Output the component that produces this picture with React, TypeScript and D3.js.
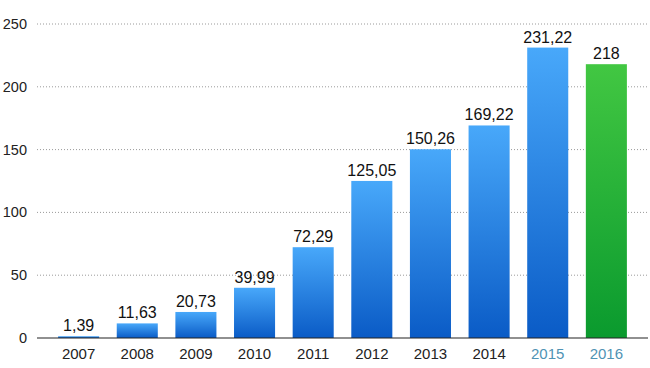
import React from "react";
import * as d3 from "d3";

const WIDTH = 650;
const HEIGHT = 368;
const MARGIN = { top: 24, right: 2, bottom: 30, left: 37 };

const years = ["2007", "2008", "2009", "2010", "2011", "2012", "2013", "2014", "2015", "2016"];
const values = [1.39, 11.63, 20.73, 39.99, 72.29, 125.05, 150.26, 169.22, 231.22, 218];
const valueLabels = ["1,39", "11,63", "20,73", "39,99", "72,29", "125,05", "150,26", "169,22", "231,22", "218"];
const yTicks = [0, 50, 100, 150, 200, 250];
const highlightYears = ["2015", "2016"];
const forecastYears = ["2016"];

const FONT = "'Liberation Sans', Helvetica, Arial, sans-serif";

const App = () => {
  const boundsWidth = WIDTH - MARGIN.left - MARGIN.right;
  const boundsHeight = HEIGHT - MARGIN.top - MARGIN.bottom;

  const xScale = d3
    .scaleBand()
    .domain(years)
    .range([0, boundsWidth])
    .paddingInner(0.3)
    .paddingOuter(0.36);

  const yScale = d3.scaleLinear().domain([0, 250]).range([boundsHeight, 0]);

  return (
    <svg
      width={WIDTH}
      height={HEIGHT}
      style={{ position: "absolute", left: 0, top: 0, background: "#fff" }}
    >
      <defs>
        <linearGradient id="blueGrad" x1="0" y1="0" x2="0" y2="1">
          <stop offset="0%" stopColor="#48a8fa" />
          <stop offset="100%" stopColor="#0a5bc6" />
        </linearGradient>
        <linearGradient id="greenGrad" x1="0" y1="0" x2="0" y2="1">
          <stop offset="0%" stopColor="#42c742" />
          <stop offset="100%" stopColor="#0a9a2e" />
        </linearGradient>
      </defs>
      <g transform={`translate(${MARGIN.left},${MARGIN.top})`}>
        {yTicks.map((t) => (
          <g key={t}>
            {t > 0 && (
              <line
                x1={0}
                x2={boundsWidth}
                y1={yScale(t)}
                y2={yScale(t)}
                stroke="#9a9a9a"
                strokeWidth={1}
                strokeDasharray="1,2"
              />
            )}
            <text
              x={-10}
              y={yScale(t)}
              textAnchor="end"
              dominantBaseline="central"
              fontSize={14.5}
              fontFamily={FONT}
              fill="#222"
            >
              {t}
            </text>
          </g>
        ))}

        {years.map((y, i) => {
          const x = xScale(y) as number;
          const bw = xScale.bandwidth();
          const top = yScale(values[i]);
          return (
            <g key={y}>
              <rect
                x={x}
                y={top}
                width={bw}
                height={boundsHeight - top}
                fill={forecastYears.includes(y) ? "url(#greenGrad)" : "url(#blueGrad)"}
              />
              <text
                x={x + bw / 2}
                y={top - 5}
                textAnchor="middle"
                fontSize={16}
                fontFamily={FONT}
                fill="#111"
              >
                {valueLabels[i]}
              </text>
              <text
                x={x + bw / 2}
                y={boundsHeight + 21}
                textAnchor="middle"
                fontSize={15}
                fontFamily={FONT}
                fill={highlightYears.includes(y) ? "#4f93b4" : "#222"}
              >
                {y}
              </text>
            </g>
          );
        })}

        <line
          x1={0}
          x2={boundsWidth}
          y1={boundsHeight}
          y2={boundsHeight}
          stroke="#222"
          strokeWidth={1.2}
        />
      </g>
    </svg>
  );
};

export default App;
